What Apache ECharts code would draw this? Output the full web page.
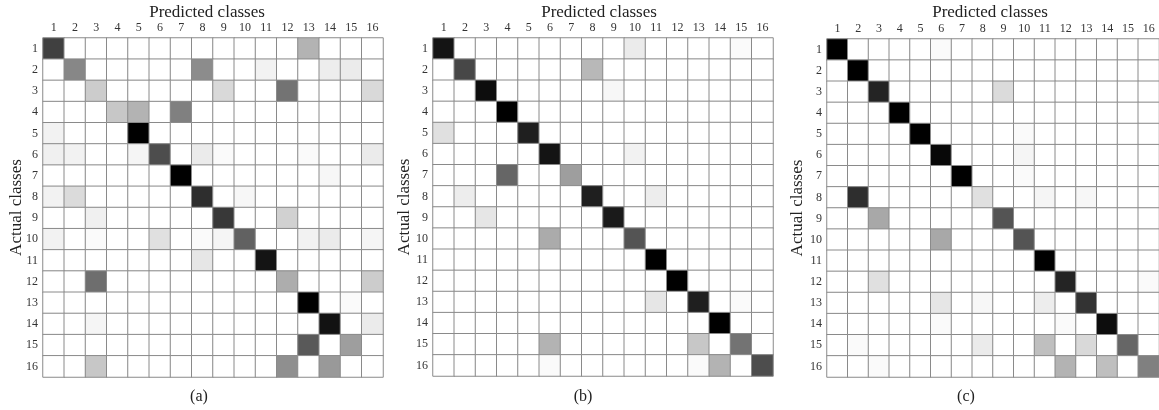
<!DOCTYPE html>
<html>
<head>
<meta charset="utf-8">
<script src="https://cdn.jsdelivr.net/npm/echarts@6/dist/echarts.min.js"></script>
<style>html,body{margin:0;padding:0;background:#fff}#c{width:1159px;height:410px}</style>
</head>
<body>
<div id="c"></div>
<script>
// Class labels (1..16)
const classes = ['1','2','3','4','5','6','7','8','9','10','11','12','13','14','15','16'];
const xTitle = 'Predicted classes';
const yTitle = 'Actual classes';
const captions = ['(a)', '(b)', '(c)'];

// Cell darkness (0 = white, 100 = black); rows = actual class, cols = predicted class
const matrixA = [
  [75,0,0,0,0,0,0,0,0,0,0,0,30,0,0,0],
  [0,47,0,0,0,0,0,45,0,0,5,0,0,7,8,0],
  [0,0,20,0,0,0,0,0,15,0,0,55,0,0,0,15],
  [0,0,0,22,30,0,50,0,0,0,0,0,0,0,0,0],
  [5,0,0,0,100,0,0,0,0,0,0,0,0,0,0,0],
  [6,5,0,0,4,70,0,8,2,0,0,0,2,0,0,8],
  [0,0,0,0,0,0,100,0,0,0,0,0,0,3,0,0],
  [5,14,0,0,0,0,0,82,0,3,0,0,0,0,0,0],
  [0,0,6,0,0,0,0,0,78,0,0,18,0,0,0,0],
  [5,0,2,0,0,12,0,2,4,62,0,0,5,8,0,4],
  [0,0,0,0,0,0,0,10,0,0,92,0,0,0,0,0],
  [0,0,57,0,0,0,0,0,0,0,0,32,0,0,0,20],
  [0,0,0,0,0,0,0,0,0,0,0,0,100,0,2,0],
  [0,0,4,0,0,0,0,0,0,0,0,0,0,93,0,8],
  [0,0,0,0,0,0,0,0,0,0,0,0,65,0,38,0],
  [0,0,22,0,0,0,0,0,0,0,0,44,0,40,0,0]
];
const matrixB = [
  [92,0,0,0,0,0,0,0,0,8,0,0,0,0,2,0],
  [0,72,0,0,0,0,0,28,0,0,0,0,0,0,0,0],
  [0,0,95,0,0,0,0,0,3,0,0,0,0,0,0,0],
  [0,0,0,100,0,0,0,0,0,0,0,0,0,0,0,0],
  [12,0,0,0,88,0,0,0,0,0,0,0,0,0,0,0],
  [0,0,0,0,0,92,0,0,0,5,0,0,0,0,0,0],
  [0,0,0,60,0,0,38,0,0,0,0,0,0,0,0,0],
  [0,7,0,0,0,0,0,88,0,0,7,0,0,0,0,0],
  [0,0,10,0,0,0,0,0,90,0,0,0,0,0,0,0],
  [0,0,0,0,0,33,0,0,0,67,0,0,0,0,0,0],
  [0,0,0,0,0,0,0,0,0,0,100,0,0,0,0,0],
  [0,0,0,0,0,0,0,0,0,0,0,100,0,0,0,0],
  [0,0,0,0,0,0,0,0,0,0,10,0,88,0,2,0],
  [0,0,0,0,0,0,0,0,0,0,0,0,0,100,0,0],
  [0,0,0,0,0,30,0,0,0,0,0,0,22,0,55,0],
  [0,0,0,0,0,2,0,0,0,0,0,0,2,30,0,70]
];
const matrixC = [
  [100,0,0,0,0,2,0,0,0,0,0,0,0,0,0,0],
  [0,100,0,0,0,0,0,0,0,0,0,0,0,0,0,0],
  [0,0,86,0,0,0,0,0,14,0,0,0,0,0,0,0],
  [0,0,0,100,0,0,0,0,0,0,0,0,0,0,0,0],
  [0,0,0,0,100,0,0,0,0,2,0,0,0,0,0,0],
  [0,0,0,0,0,97,0,0,0,4,0,0,0,0,0,0],
  [0,0,0,0,0,0,100,0,0,2,0,0,0,0,0,0],
  [0,82,0,0,0,0,0,12,0,0,4,0,3,0,0,0],
  [0,0,34,0,0,0,0,0,67,0,0,0,0,0,0,0],
  [0,0,0,0,0,34,0,0,0,67,0,0,0,0,0,0],
  [0,0,0,0,0,0,0,0,0,0,100,0,0,0,0,0],
  [0,0,12,0,0,0,0,0,0,0,0,86,0,0,0,2],
  [0,0,0,0,0,10,0,3,0,0,7,0,80,0,0,0],
  [0,0,0,0,0,2,0,0,0,0,0,2,0,95,0,0],
  [0,2,0,0,0,0,0,8,0,0,25,0,15,0,60,0],
  [0,0,2,0,0,0,0,0,0,0,0,30,0,25,0,50]
];

const matrices = [matrixA, matrixB, matrixC];
const FONT = '"Liberation Serif", "DejaVu Serif", serif';

const grids = [
  {left: 43, top: 38, width: 340, height: 339},
  {left: 433, top: 38, width: 340, height: 338},
  {left: 827, top: 39, width: 340, height: 338}
];
const titleX = [207, 599, 990];
const yTitleX = [17, 405, 798];
const capX = [199, 583, 966];

function toData(m) {
  const out = [];
  for (let i = 0; i < m.length; i++)
    for (let j = 0; j < m[i].length; j++)
      out.push([j, i, m[i][j]]);
  return out;
}

const xAxes = [], yAxes = [], series = [], graphics = [];
grids.forEach((g, k) => {
  xAxes.push({
    type: 'category', gridIndex: k, data: classes, position: 'top',
    axisLine: {show: false}, axisTick: {show: false}, splitLine: {show: false},
    axisLabel: {interval: 0, margin: 4, fontFamily: FONT, fontSize: 12, color: '#333'}
  });
  yAxes.push({
    type: 'category', gridIndex: k, data: classes, inverse: true,
    axisLine: {show: false}, axisTick: {show: false}, splitLine: {show: false},
    axisLabel: {interval: 0, margin: 5, fontFamily: FONT, fontSize: 12, color: '#333'}
  });
  series.push({
    type: 'heatmap', xAxisIndex: k, yAxisIndex: k,
    data: toData(matrices[k]),
    itemStyle: {borderColor: '#8a8a8a', borderWidth: 1},
    emphasis: {disabled: true}
  });
  const cy = g.top + g.height / 2;
  graphics.push(
    {type: 'text', x: titleX[k], y: 13, style: {text: xTitle, font: '17px ' + FONT, fill: '#222', align: 'center', verticalAlign: 'middle'}},
    {type: 'text', x: yTitleX[k], y: cy, rotation: Math.PI / 2, style: {text: yTitle, font: '17px ' + FONT, fill: '#222', align: 'center', verticalAlign: 'middle'}},
    {type: 'text', x: capX[k], y: 397, style: {text: captions[k], font: '16px ' + FONT, fill: '#222', align: 'center', verticalAlign: 'middle'}}
  );
});

const chart = echarts.init(document.getElementById('c'), null, {renderer: 'canvas'});
chart.setOption({
  animation: false,
  backgroundColor: '#ffffff',
  grid: grids,
  xAxis: xAxes,
  yAxis: yAxes,
  visualMap: {
    type: 'continuous', show: false, min: 0, max: 100, seriesIndex: [0, 1, 2],
    inRange: {color: ['#ffffff', '#000000']}
  },
  series: series,
  graphic: graphics
});
</script>
</body>
</html>
